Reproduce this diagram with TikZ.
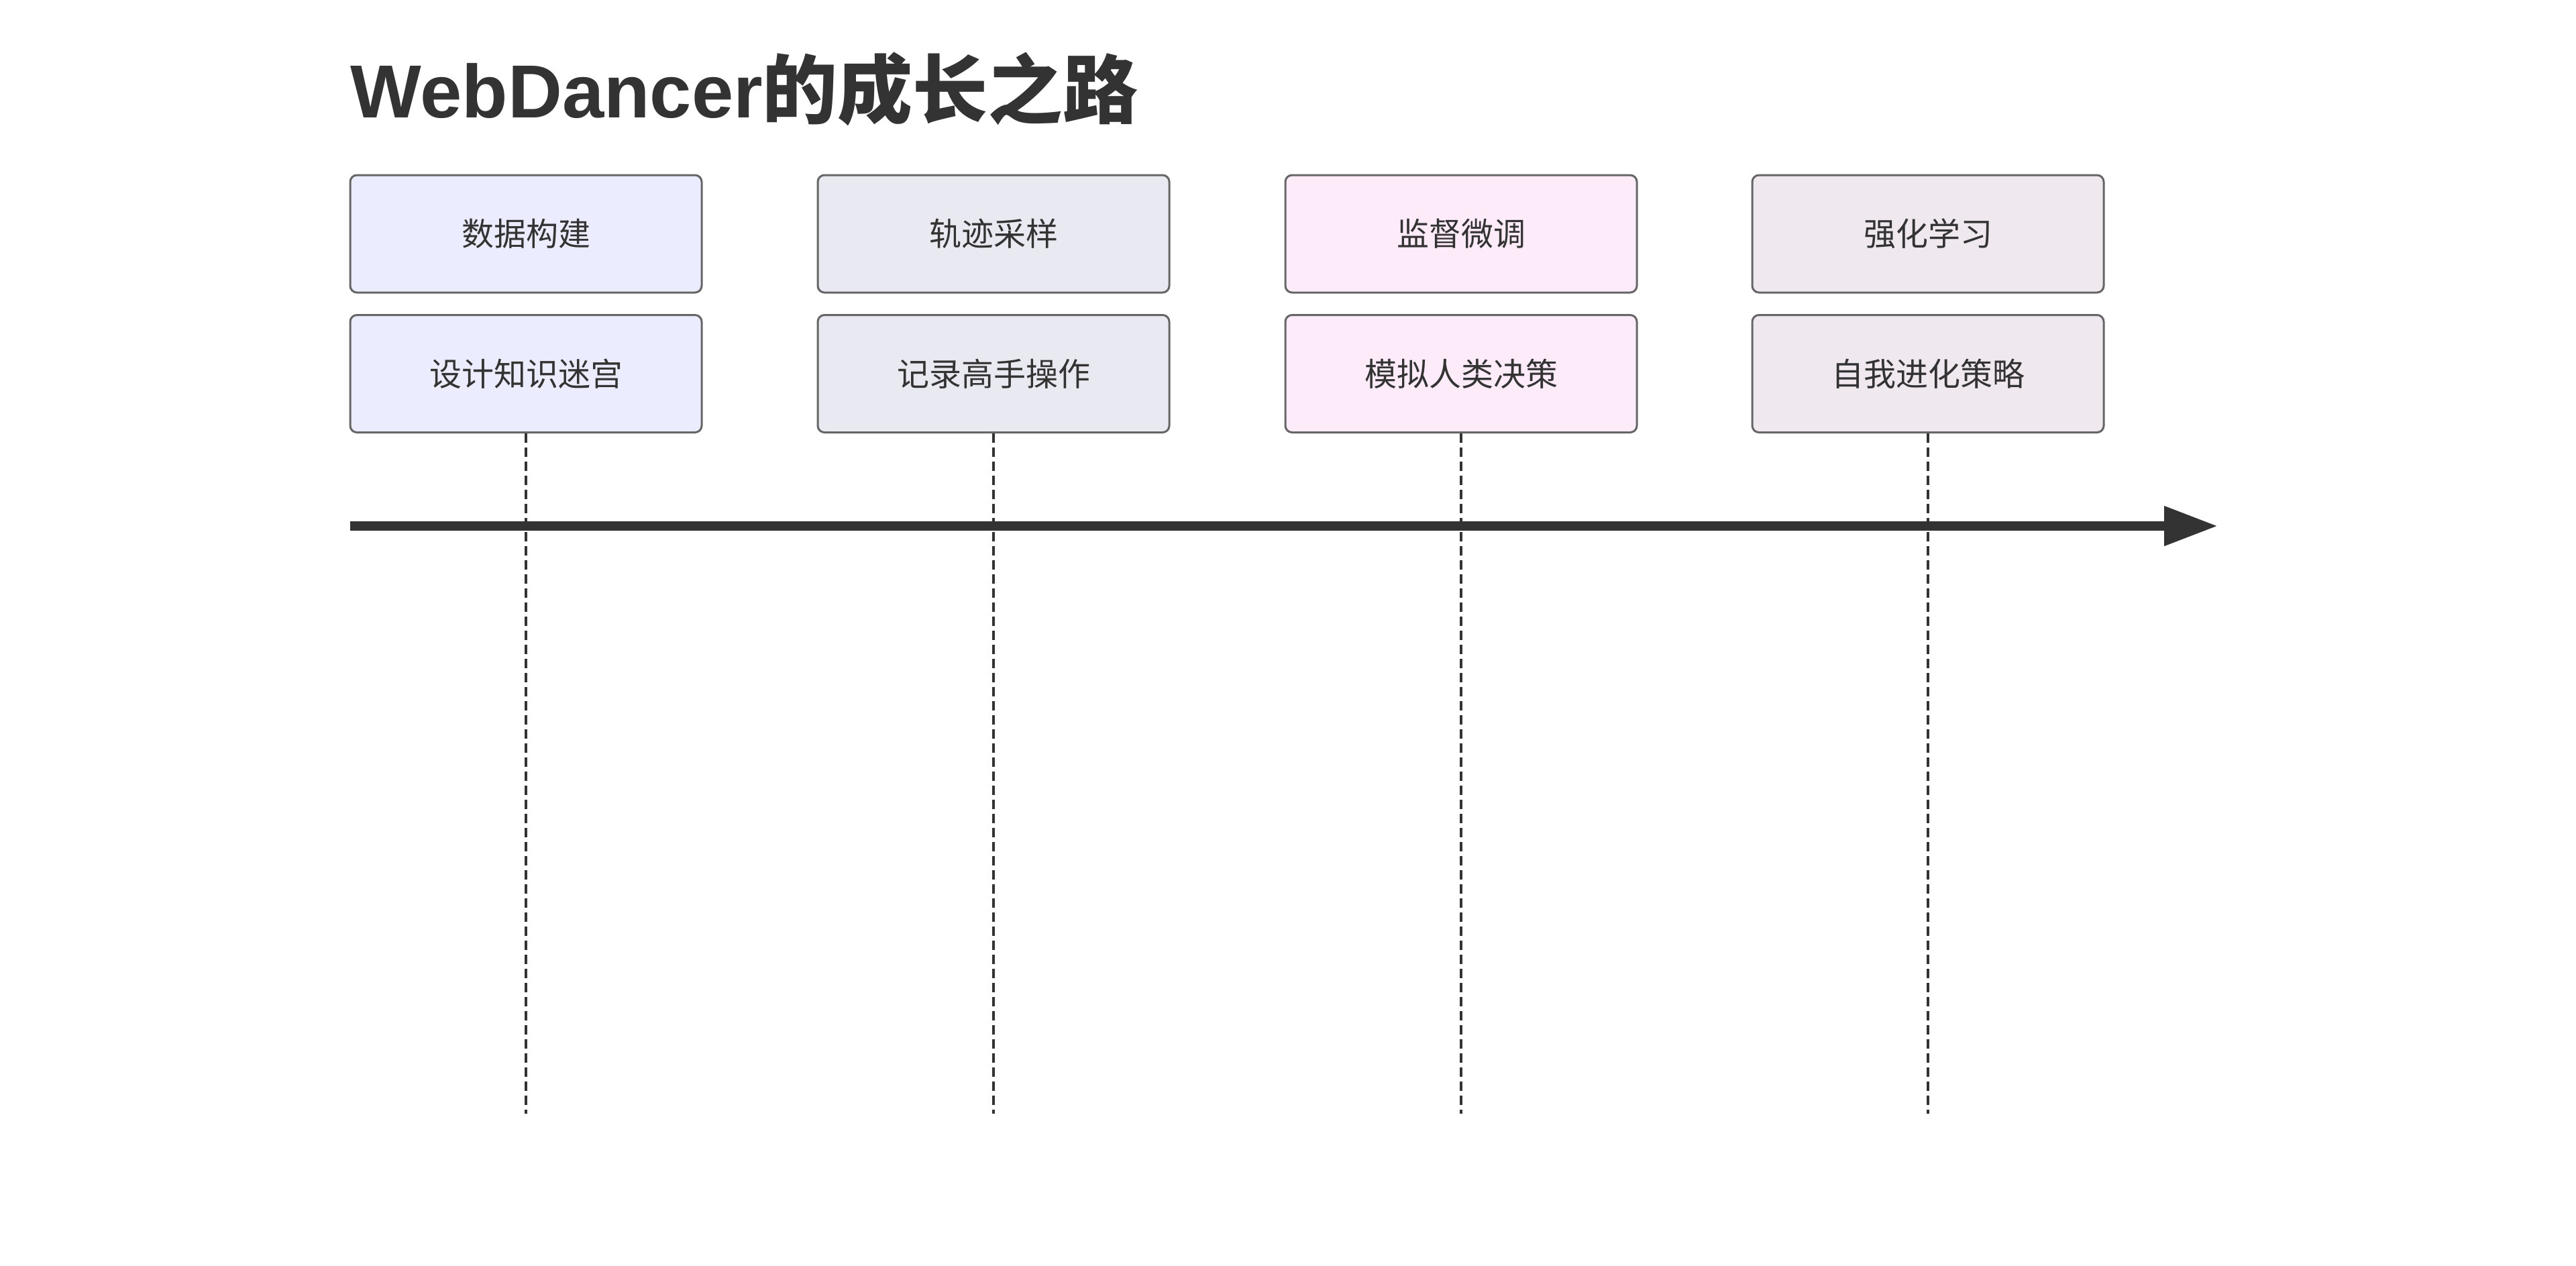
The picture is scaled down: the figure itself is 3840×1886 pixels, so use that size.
\documentclass[tikz,border=0pt]{standalone}
\usepackage{fontspec}
\setmainfont{Liberation Sans}
\newfontfamily\cjk{Noto Sans CJK SC}
\usetikzlibrary{arrows.meta}
\definecolor{txt}{HTML}{333333}
\definecolor{edge}{HTML}{666666}
\definecolor{cA}{HTML}{ECECFF}
\definecolor{cB}{HTML}{E9E9F1}
\definecolor{cC}{HTML}{FDEBF9}
\definecolor{cD}{HTML}{EFE8EF}
\tikzset{
  evbox/.style={draw=edge, line width=0.75pt, rounded corners=2.5pt,
    minimum width=131pt, minimum height=43.75pt, inner sep=0pt,
    text=txt, font=\cjk\fontsize{12pt}{14pt}\selectfont},
  guide/.style={draw=txt, line width=1pt, dash pattern=on 3.5pt off 1.75pt},
  axis/.style={draw=txt, line width=3.5pt, -{Triangle[length=20pt,width=14pt]}}
}
\begin{document}
\begin{tikzpicture}[x=0.25pt,y=-0.25pt]
\useasboundingbox (0,0) rectangle (3840,1886);
\node[anchor=base west, inner sep=0pt, text=txt,
  font=\bfseries\fontsize{28pt}{32pt}\selectfont] (title) at (522,175)
  {WebDancer{\cjk\bfseries 的成长之路}};
% timeline axis
\coordinate (ax0) at (522,784);
\coordinate (ax1) at (3306,784);
% column 1
\node[evbox, fill=cA] (p1) at (784,348.5) {数据构建};
\node[evbox, fill=cA] (e1) at (784,557) {设计知识迷宫};
\coordinate (d1) at (784,1660);
% column 2
\node[evbox, fill=cB] (p2) at (1481,348.5) {轨迹采样};
\node[evbox, fill=cB] (e2) at (1481,557) {记录高手操作};
\coordinate (d2) at (1481,1660);
% column 3
\node[evbox, fill=cC] (p3) at (2178,348.5) {监督微调};
\node[evbox, fill=cC] (e3) at (2178,557) {模拟人类决策};
\coordinate (d3) at (2178,1660);
% column 4
\node[evbox, fill=cD] (p4) at (2874,348.5) {强化学习};
\node[evbox, fill=cD] (e4) at (2874,557) {自我进化策略};
\coordinate (d4) at (2874,1660);
\foreach \i in {1,2,3,4} {\draw[guide] (e\i.south) -- (d\i);}
\draw[axis] (ax0) -- (ax1);
\end{tikzpicture}
\end{document}
